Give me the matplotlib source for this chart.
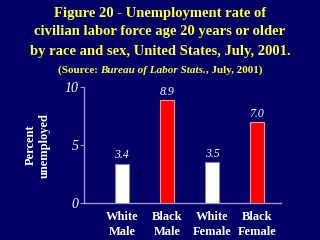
import matplotlib
matplotlib.use("Agg")
import matplotlib.pyplot as plt

categories = ["White\nMale", "Black\nMale", "White\nFemale", "Black\nFemale"]
values = [3.4, 8.9, 3.5, 7.0]
bar_colors = ["#ffffff", "#ff0000", "#ffffff", "#ff0000"]
edge_colors = ["#888888", "#ff9999", "#888888", "#ff9999"]
yticks = [0, 5, 10]

BG = "#000066"
YEL = "#ffff33"
SERIF = ["Liberation Serif", "DejaVu Serif"]

fig = plt.figure(figsize=(3.2, 2.4), dpi=100)
fig.patch.set_facecolor(BG)
ax = fig.add_axes([0.2625, 0.154, 0.6156, 0.483])
ax.set_facecolor(BG)

x = list(range(len(categories)))
ax.bar(x, values, width=0.32, color=bar_colors, edgecolor=edge_colors, linewidth=0.8, zorder=3)
for xi, v in zip(x, values):
    ax.text(xi, v + 0.2, f"{v:.1f}", ha="center", va="bottom", color="white",
            fontsize=8.5, fontstyle="italic", family=SERIF)

ax.set_xlim(-0.84, 3.53)
ax.set_ylim(0, 10)
ax.set_yticks(yticks)
ax.set_yticklabels([str(t) for t in yticks], fontsize=10, fontstyle="italic", family=SERIF, color="white")
ax.set_xticks(x)
ax.set_xticklabels(categories, fontsize=9, fontweight="bold", family=SERIF, color="white", linespacing=1.25)
ax.tick_params(axis="x", length=0, pad=6)
ax.tick_params(axis="y", length=3, color="#9999cc", pad=1)
for s in ["top", "right"]:
    ax.spines[s].set_visible(False)
for s in ["left", "bottom"]:
    ax.spines[s].set_color("#9999cc")
    ax.spines[s].set_linewidth(1)

ax.set_ylabel("Percent\nunemployed", fontsize=9, fontweight="bold", family=SERIF, color="white", labelpad=10, linespacing=1.2)

title_lines = ["Figure 20 - Unemployment rate of",
               "civilian labor force age 20 years or older",
               "by race and sex, United States, July, 2001."]
for i, line in enumerate(title_lines):
    fig.text(0.5, 1 - (13 + 19 * i) / 240, line, ha="center", va="center", color=YEL,
             fontsize=10.5, fontweight="bold", family=SERIF)

# source line with mixed italic
parts = [("(Source: ", "normal"), ("Bureau of Labor Stats.", "italic"), (", July, 2001)", "normal")]
fig.canvas.draw()
r = fig.canvas.get_renderer()
texts = []
for s, st in parts:
    t = fig.text(0, 1 - 70 / 240, s, ha="left", va="center", color=YEL, fontsize=8,
                 fontweight="bold", fontstyle=st, family=SERIF)
    texts.append(t)
widths = [t.get_window_extent(r).width for t in texts]
total = sum(widths)
xpos = (320 - total) / 2
for t, w in zip(texts, widths):
    t.set_x(xpos / 320)
    xpos += w

fig.savefig("out.png", dpi=100, facecolor=BG)
